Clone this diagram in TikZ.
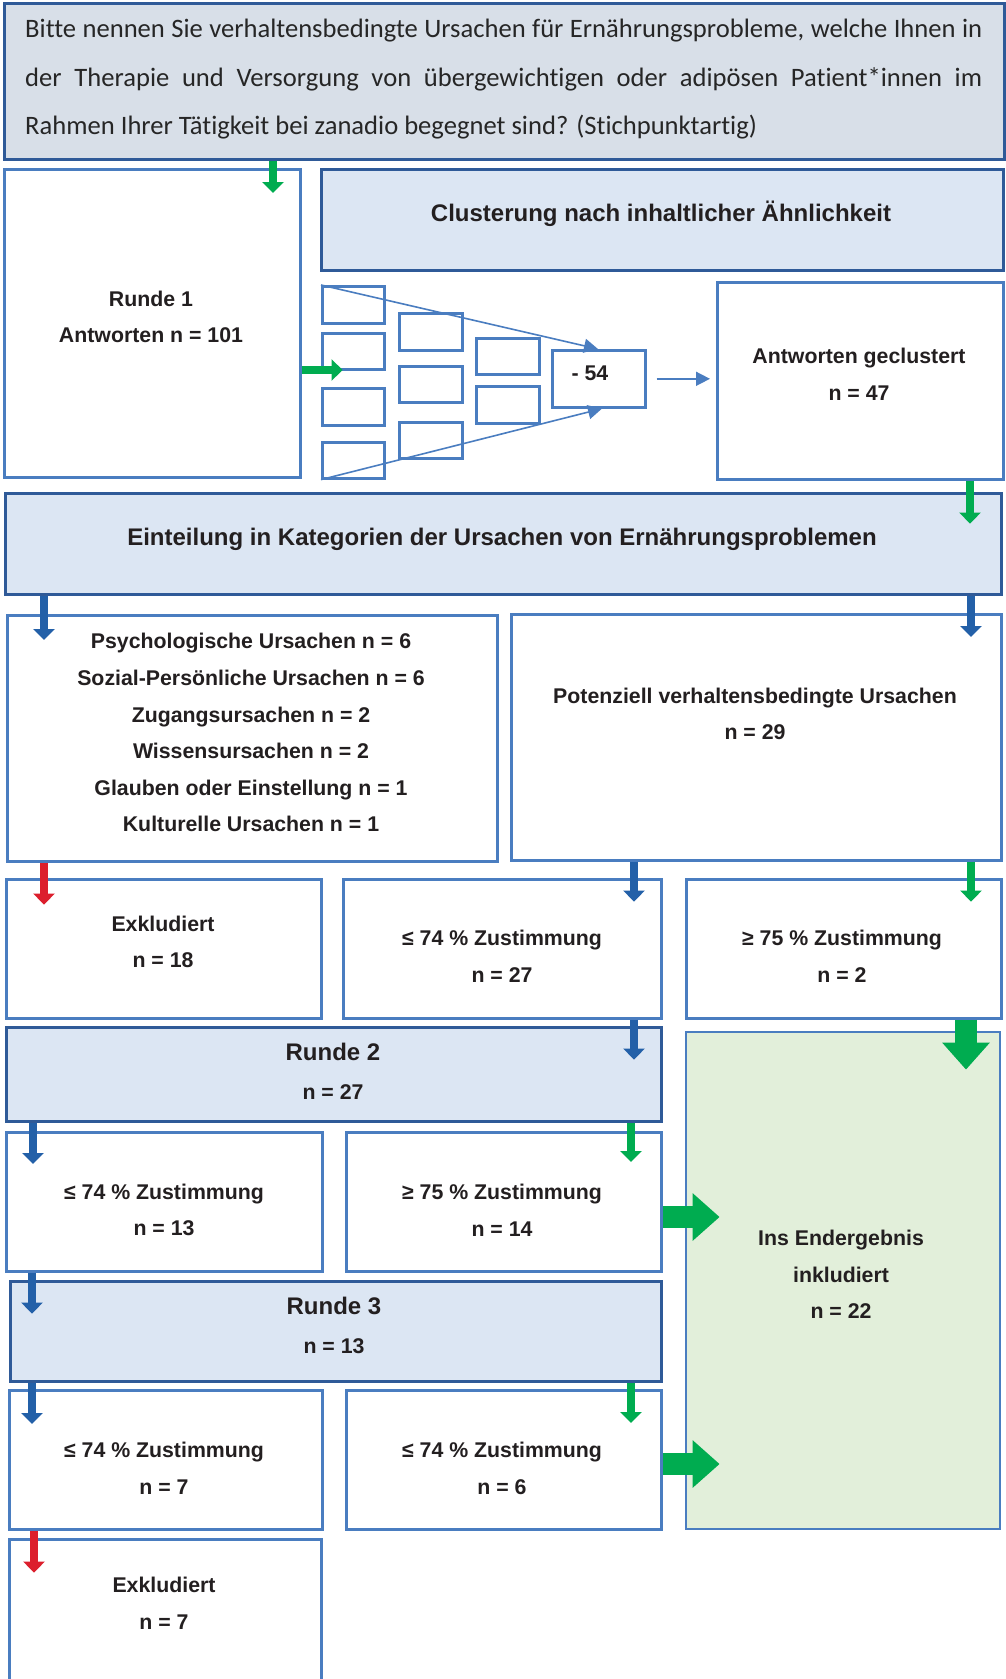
\documentclass[tikz,border=0pt]{standalone}
\usepackage{fontspec}
\setmainfont{Liberation Sans}
\newfontfamily\qfont[Ligatures=NoCommon]{Carlito}
\usetikzlibrary{arrows.meta,calc}
\definecolor{dblue}{HTML}{2F5A98}
\definecolor{mblue}{HTML}{4A7DC0}
\definecolor{lfill}{HTML}{DCE6F3}
\definecolor{qfill}{HTML}{D8DFE8}
\definecolor{gfill}{HTML}{E2EFDA}
\definecolor{agreen}{HTML}{00AC50}
\definecolor{ablue}{HTML}{2360A8}
\definecolor{ared}{HTML}{DC1F2D}
\definecolor{txt}{HTML}{231F20}
\definecolor{qtxtc}{HTML}{262626}
\newcommand{\boxat}[6]{\node[#1, anchor=north west, minimum width={#5-#3}, minimum height={#6-#4}] (#2) at (#3,#4) {};}
\newcommand{\bigline}[1]{{\fontsize{24}{36.6}\selectfont #1}}
\begin{document}
\begin{tikzpicture}[x=1pt,y=-1pt,
  qbox/.style={draw=dblue, fill=qfill, line width=3pt, inner sep=0pt},
  dbox/.style={draw=dblue, fill=lfill, line width=3pt, inner sep=0pt},
  wbox/.style={draw=mblue, fill=white, line width=2.6pt, inner sep=0pt},
  gbox/.style={draw=mblue, fill=gfill, line width=1.8pt, inner sep=0pt},
  lbl/.style={font=\bfseries\fontsize{21.3}{36.6}\selectfont, text=txt, align=center, inner sep=0pt},
  hlbl/.style={lbl, font=\bfseries\fontsize{24}{36.6}\selectfont},
  qtxt/.style={font=\qfont\fontsize{26.6}{48}\selectfont, text=qtxtc, inner sep=0pt, anchor=base west},
  sarr/.style={line width=8.5pt, -{Triangle[width=21pt,length=11pt]}},
  barr/.style={line width=22pt, -{Triangle[width=46pt,length=27pt]}},
  tarr/.style={draw=mblue, line width=1.6pt, -{Triangle[width=14pt,length=14pt]}}]
\useasboundingbox (0,0) rectangle (1005,1679);
\fill[white] (0,0) rectangle (1005,1679);
% boxes
\boxat{qbox}{q}{3}{2}{1003}{158}
\boxat{wbox}{r1}{3}{168}{299}{476}
\boxat{dbox}{clu}{320}{168}{1002}{269}
\boxat{wbox}{c11}{321}{285}{383}{322}
\boxat{wbox}{c12}{321}{332}{383}{368}
\boxat{wbox}{c13}{321}{387}{383}{424}
\boxat{wbox}{c14}{321}{441}{383}{477}
\boxat{wbox}{c21}{398}{312}{461}{349}
\boxat{wbox}{c22}{398}{365}{461}{401}
\boxat{wbox}{c23}{398}{421}{461}{457}
\boxat{wbox}{c31}{475}{337}{538}{373}
\boxat{wbox}{c32}{475}{385}{538}{422}
\boxat{wbox}{m54}{551}{349}{644}{406}
\boxat{wbox}{ag}{716}{281}{1002}{478}
\boxat{dbox}{ein}{4}{492}{1000}{593}
\boxat{wbox}{cat}{6}{614}{496}{860}
\boxat{wbox}{pot}{510}{613}{1000}{859}
\boxat{wbox}{ex1}{5}{878}{320}{1017}
\boxat{wbox}{le27}{342}{878}{660}{1017}
\boxat{wbox}{ge2}{685}{878}{1000}{1017}
\boxat{dbox}{r2}{5}{1026}{660}{1120}
\boxat{gbox}{fin}{685}{1031}{999}{1528}
\boxat{wbox}{le13}{5}{1131}{321}{1270}
\boxat{wbox}{ge14}{345}{1131}{660}{1270}
\boxat{dbox}{r3}{9}{1280}{660}{1380}
\boxat{wbox}{le7}{8}{1389}{321}{1528}
\boxat{wbox}{le6}{345}{1389}{660}{1528}
\boxat{wbox}{ex2}{8}{1538}{320}{1690}
% question text
\node[qtxt] (q1) at (25,37) {\makebox[957pt][s]{Bitte nennen Sie verhaltensbedingte Ursachen für Ernährungsprobleme, welche Ihnen in}};
\node[qtxt] (q2) at (25,86) {\makebox[957pt][s]{der Therapie und Versorgung von übergewichtigen oder adipösen Patient*innen im}};
\node[qtxt] (q3) at (25,134.5) {Rahmen Ihrer Tätigkeit bei zanadio begegnet sind? (Stichpunktartig)};
% labels
\node[lbl] (tr1) at (151,317) {Runde 1\\Antworten n = 101};
\node[hlbl] (tclu) at (661,214) {Clusterung nach inhaltlicher Ähnlichkeit};
\node[lbl] (tm54) at (590,373) {- 54};
\node[lbl] (tag) at (859,374.5) {Antworten geclustert\\n = 47};
\node[hlbl] (tein) at (502,539) {Einteilung in Kategorien der Ursachen von Ernährungsproblemen};
\node[lbl] (tcat) at (251,732.7) {Psychologische Ursachen n = 6\\Sozial-Persönliche Ursachen n = 6\\Zugangsursachen n = 2\\Wissensursachen n = 2\\Glauben oder Einstellung n = 1\\Kulturelle Ursachen n = 1};
\node[lbl] (tpot) at (755,714) {Potenziell verhaltensbedingte Ursachen\\n = 29};
\node[lbl] (tex1) at (163,942) {Exkludiert\\n = 18};
\node[lbl] (tle27) at (502,956.5) {≤ 74 \% Zustimmung\\n = 27};
\node[lbl] (tge2) at (842,956.5) {≥ 75 \% Zustimmung\\n = 2};
\node[lbl] (tr2) at (333,1071) {\bigline{Runde 2}\\[2pt]n = 27};
\node[lbl] (tfin) at (841,1274.5) {Ins Endergebnis\\inkludiert\\n = 22};
\node[lbl] (tle13) at (164,1210) {≤ 74 \% Zustimmung\\n = 13};
\node[lbl] (tge14) at (502,1210) {≥ 75 \% Zustimmung\\n = 14};
\node[lbl] (tr3) at (334,1325.5) {\bigline{Runde 3}\\[2pt]n = 13};
\node[lbl] (tle7) at (164,1468.5) {≤ 74 \% Zustimmung\\n = 7};
\node[lbl] (tle6) at (502,1468.5) {≤ 74 \% Zustimmung\\n = 6};
\node[lbl] (tex2) at (164,1603.5) {Exkludiert\\n = 7};
% thin arrows
\draw[tarr] (c11.north west) -- ([xshift=47]m54.north west);
\draw[tarr] (c14.south west) -- ([xshift=51]m54.south west);
\draw[tarr] ([xshift=10]m54.east) -- ($(ag.west |- m54.east)+(-6,0)$);
% block arrows
\draw[sarr, agreen] ([xshift=270]q.south west) -- ++(0,32);
\draw[sarr, agreen] ([yshift=-202]r1.north east) -- ++(41,0);
\draw[sarr, agreen] ([xshift=254]ag.south west) -- ++(0,43);
\draw[sarr, ablue] ([xshift=40]ein.south west) -- ++(0,44);
\draw[sarr, ablue] ([xshift=967]ein.south west) -- ++(0,41);
\draw[sarr, ared] ([xshift=38]cat.south west) -- ++(0,42);
\draw[sarr, ablue] ([xshift=124]pot.south west) -- ++(0,40);
\draw[sarr, agreen] ([xshift=461]pot.south west) -- ++(0,40);
\draw[sarr, ablue] ([xshift=292]le27.south west) -- ++(0,40);
\draw[barr, agreen] ([xshift=281]ge2.south west) -- ++(0,50);
\draw[sarr, ablue] ([xshift=28]r2.south west) -- ++(0,41);
\draw[sarr, agreen] ([xshift=626]r2.south west) -- ++(0,39);
\draw[barr, agreen] ([yshift=-86]ge14.north east) -- ++(57,0);
\draw[sarr, ablue] ([xshift=27]le13.south west) -- ++(0,41);
\draw[sarr, ablue] ([xshift=23]r3.south west) -- ++(0,41);
\draw[sarr, agreen] ([xshift=622]r3.south west) -- ++(0,40);
\draw[barr, agreen] ([yshift=-75]le6.north east) -- ++(57,0);
\draw[sarr, ared] ([xshift=26]le7.south west) -- ++(0,42);
\end{tikzpicture}
\end{document}
